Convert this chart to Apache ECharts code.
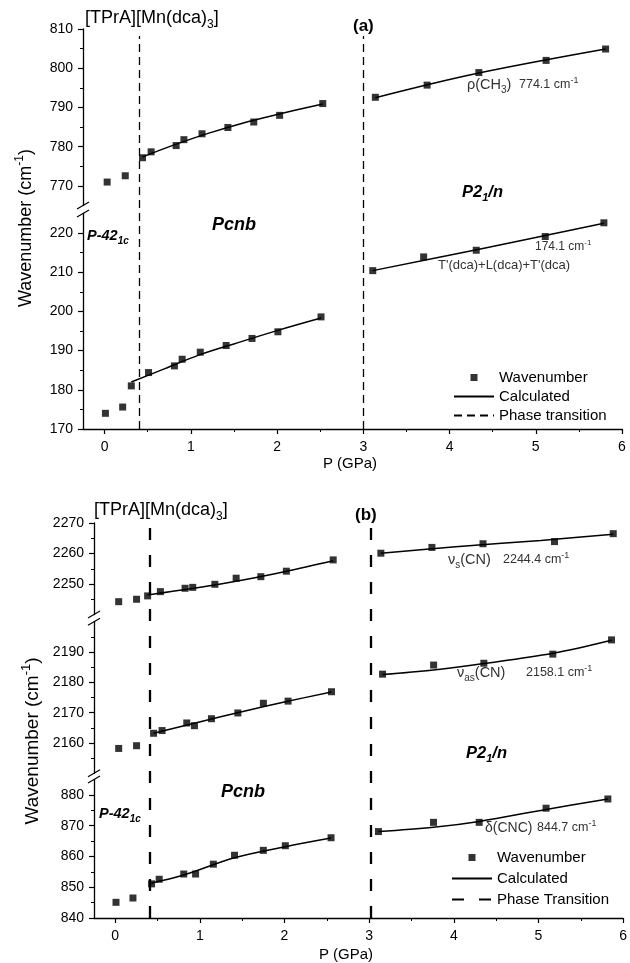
<!DOCTYPE html>
<html>
<head>
<meta charset="utf-8">
<script src="https://cdn.jsdelivr.net/npm/echarts@6/dist/echarts.min.js"></script>
<style>
  html, body { margin: 0; padding: 0; background: #fff; }
  #chart { width: 630px; height: 963px; }
</style>
</head>
<body>
<div id="chart"></div>
<script>
const FONT = "'Liberation Sans', Arial, sans-serif";

// ticks
const pMajor = [0, 1, 2, 3, 4, 5, 6];
const pMinor = [0.5, 1.5, 2.5, 3.5, 4.5, 5.5];
const rhoMajor = [770, 780, 790, 800, 810];
const rhoMinor = [775, 785, 795, 805];
const latMajor = [170, 180, 190, 200, 210, 220];
const latMinor = [175, 185, 195, 205, 215];
const nuSMajor = [2250, 2260, 2270];
const nuSMinor = [2245, 2255, 2265];
const nuAsMajor = [2160, 2170, 2180, 2190];
const nuAsMinor = [2155, 2165, 2175, 2185, 2195];
const deltaMajor = [840, 850, 860, 870, 880];
const deltaMinor = [845, 855, 865, 875];
const transitions = [0.4, 3.0];

// (a) rho(CH3)
const rhoP = [0.03, 0.24, 0.44, 0.54, 0.83, 0.92, 1.13, 1.43, 1.73, 2.03, 2.53];
const rhoW = [771.0, 772.6, 777.2, 778.7, 780.3, 781.8, 783.3, 784.9, 786.3, 788.0, 791.0];
const rhoP2 = [3.14, 3.74, 4.34, 5.12, 5.81];
const rhoW2 = [792.6, 795.7, 798.9, 802.0, 804.9];
const rhoCalcP = [0.44, 0.8, 1.2, 1.6, 2.0, 2.53];
const rhoCalc = [777.4, 780.4, 783.4, 786.0, 788.2, 790.9];
const rhoCalcP2 = [3.14, 4.3, 5.81];
const rhoCalc2 = [792.5, 798.6, 804.9];

// (a) T'(dca)+L(dca)+T'(dca)
const latP = [0.01, 0.21, 0.31, 0.51, 0.81, 0.90, 1.11, 1.41, 1.71, 2.01, 2.51];
const latW = [174.0, 175.6, 181.0, 184.4, 186.1, 187.8, 189.6, 191.3, 193.1, 194.8, 198.6];
const latP2 = [3.11, 3.70, 4.31, 5.11, 5.79];
const latW2 = [210.4, 213.9, 215.6, 219.1, 222.6];
const latCalcP = [0.31, 0.7, 1.1, 1.5, 2.0, 2.51];
const latCalc = [182.0, 185.4, 188.9, 191.7, 195.1, 198.3];
const latCalcP2 = [3.11, 4.4, 5.79];
const latCalc2 = [210.4, 216.1, 222.5];

// (b) nu_s(CN)
const nuSP = [0.04, 0.25, 0.38, 0.53, 0.82, 0.91, 1.17, 1.42, 1.71, 2.01, 2.56];
const nuSW = [2244.2, 2245.0, 2246.1, 2247.5, 2248.6, 2248.9, 2249.9, 2251.9, 2252.4, 2254.2, 2257.9];
const nuSP2 = [3.12, 3.72, 4.32, 5.16, 5.85];
const nuSW2 = [2260.1, 2262.0, 2263.2, 2263.9, 2266.5];
const nuSCalcP = [0.38, 1.0, 1.5, 2.0, 2.56];
const nuSCalc = [2246.4, 2248.9, 2251.3, 2254.1, 2257.6];
const nuSCalcP2 = [3.12, 4.0, 5.0, 5.85];
const nuSCalc2 = [2260.1, 2262.2, 2264.3, 2266.3];

// (b) nu_as(CN)
const nuAsP = [0.04, 0.25, 0.45, 0.55, 0.84, 0.93, 1.13, 1.44, 1.74, 2.03, 2.54];
const nuAsW = [2158.2, 2159.1, 2163.2, 2164.1, 2166.6, 2165.7, 2168.0, 2169.9, 2173.1, 2173.8, 2176.9];
const nuAsP2 = [3.14, 3.74, 4.33, 5.14, 5.83];
const nuAsW2 = [2182.7, 2185.7, 2186.3, 2189.3, 2194.0];
const nuAsCalcP = [0.45, 1.0, 1.5, 2.0, 2.54];
const nuAsCalc = [2163.2, 2167.0, 2170.4, 2173.6, 2176.8];
const nuAsCalcP2 = [3.14, 3.74, 4.33, 5.14, 5.83];
const nuAsCalc2 = [2182.6, 2184.1, 2186.2, 2189.6, 2193.9];

// (b) delta(CNC)
const deltaP = [0.01, 0.21, 0.43, 0.52, 0.81, 0.95, 1.16, 1.41, 1.75, 2.01, 2.55];
const deltaW = [845.1, 846.5, 851.1, 852.6, 854.3, 854.3, 857.5, 860.4, 862.0, 863.5, 866.1];
const deltaP2 = [3.11, 3.76, 4.30, 5.09, 5.82];
const deltaW2 = [868.1, 871.1, 871.1, 875.7, 878.7];
const deltaCalcP = [0.43, 0.81, 1.41, 2.01, 2.55];
const deltaCalc = [851.4, 854.0, 859.6, 863.2, 866.0];
const deltaCalcP2 = [3.11, 3.76, 4.30, 5.09, 5.82];
const deltaCalc2 = [868.1, 869.5, 871.4, 875.3, 878.7];

const zip = (ps, vs) => ps.map((p, i) => [p, vs[i]]);

// layout of the broken axes
const A = { left: 83, right: 8 };
const B = { left: 94, right: 4 };
const grid = [
  { left: A.left, right: A.right, top: 29, height: 176.6 },    // 0 (a) upper
  { left: A.left, right: A.right, top: 213.4, height: 215.6 }, // 1 (a) lower
  { left: A.left, right: A.right, top: 36, height: 393 },      // 2 (a) transitions
  { left: B.left, right: B.right, top: 523, height: 91.5 },    // 3 (b) upper
  { left: B.left, right: B.right, top: 621.7, height: 151.6 }, // 4 (b) middle
  { left: B.left, right: B.right, top: 779.6, height: 138.4 }, // 5 (b) lower
  { left: B.left, right: B.right, top: 520, height: 398 }      // 6 (b) transitions
];

const xAxis = [];
const yAxis = [];
const series = [];
const plain = (v) => String(v);

function addX(g, visible) {
  const base = { gridIndex: g, type: "value", min: -0.25, max: 6, position: "bottom", splitLine: { show: false } };
  if (!visible) {
    xAxis.push(Object.assign({ show: false }, base));
    return xAxis.length - 1;
  }
  xAxis.push(Object.assign({}, base, {
    axisLine: { show: true, onZero: false, lineStyle: { color: "#000", width: 1.3 } },
    axisTick: { show: true, length: 5, customValues: pMajor, lineStyle: { color: "#000", width: 1.2 } },
    axisLabel: { show: true, customValues: pMajor, formatter: plain, color: "#000", fontSize: 14, fontFamily: FONT, margin: 11 }
  }));
  xAxis.push(Object.assign({}, base, {
    axisLine: { show: false, onZero: false },
    axisTick: { show: true, length: 3, customValues: pMinor, lineStyle: { color: "#000", width: 1 } },
    axisLabel: { show: false }
  }));
  return xAxis.length - 2;
}

function addY(g, min, max, major, minor) {
  const base = { gridIndex: g, type: "value", min: min, max: max, position: "left", splitLine: { show: false } };
  if (!major) {
    yAxis.push(Object.assign({ show: false }, base));
    return yAxis.length - 1;
  }
  yAxis.push(Object.assign({}, base, {
    axisLine: { show: true, onZero: false, lineStyle: { color: "#000", width: 1.3 } },
    axisTick: { show: true, length: 5, customValues: major, lineStyle: { color: "#000", width: 1.2 } },
    axisLabel: { show: true, customValues: major, formatter: plain, color: "#000", fontSize: 14, fontFamily: FONT, margin: 10 }
  }));
  yAxis.push(Object.assign({}, base, {
    axisLine: { show: false, onZero: false },
    axisTick: { show: true, length: 3, customValues: minor, lineStyle: { color: "#000", width: 1 } },
    axisLabel: { show: false }
  }));
  return yAxis.length - 2;
}

function addPoints(xi, yi, ps, vs) {
  series.push({
    type: "scatter", name: "Wavenumber", xAxisIndex: xi, yAxisIndex: yi,
    symbol: "rect", symbolSize: 7, itemStyle: { color: "#000" }, z: 3,
    data: zip(ps, vs)
  });
}

// itemStyle is transparent so the legend shows only the line
function addCalc(xi, yi, ps, vs) {
  series.push({
    type: "line", name: "Calculated", xAxisIndex: xi, yAxisIndex: yi,
    symbol: "none", smooth: 0.35, itemStyle: { color: "rgba(0,0,0,0)" },
    lineStyle: { color: "#000", width: 1.5 },
    data: zip(ps, vs)
  });
}

function addTransitions(xi, yi, name, dash, width) {
  series.push({
    type: "line", name: name, xAxisIndex: xi, yAxisIndex: yi, data: [],
    symbol: "none", itemStyle: { color: "rgba(0,0,0,0)" },
    lineStyle: { color: "#000", width: width, type: dash },
    markLine: {
      silent: true, symbol: ["none", "none"], label: { show: false },
      lineStyle: { color: "#000", width: width, type: dash },
      data: transitions.map((t) => ({ xAxis: t }))
    }
  });
}

// panel (a)
let xi = addX(0, false), yi = addY(0, 765, 810, rhoMajor, rhoMinor);
addPoints(xi, yi, rhoP, rhoW); addPoints(xi, yi, rhoP2, rhoW2);
addCalc(xi, yi, rhoCalcP, rhoCalc); addCalc(xi, yi, rhoCalcP2, rhoCalc2);

xi = addX(1, true); yi = addY(1, 170, 225, latMajor, latMinor);
addPoints(xi, yi, latP, latW); addPoints(xi, yi, latP2, latW2);
addCalc(xi, yi, latCalcP, latCalc); addCalc(xi, yi, latCalcP2, latCalc2);

xi = addX(2, false); yi = addY(2, 0, 1);
addTransitions(xi, yi, "Phase transition", [8, 5], 1.3);

// panel (b)
xi = addX(3, false); yi = addY(3, 2240, 2270, nuSMajor, nuSMinor);
addPoints(xi, yi, nuSP, nuSW); addPoints(xi, yi, nuSP2, nuSW2);
addCalc(xi, yi, nuSCalcP, nuSCalc); addCalc(xi, yi, nuSCalcP2, nuSCalc2);

xi = addX(4, false); yi = addY(4, 2150, 2200, nuAsMajor, nuAsMinor);
addPoints(xi, yi, nuAsP, nuAsW); addPoints(xi, yi, nuAsP2, nuAsW2);
addCalc(xi, yi, nuAsCalcP, nuAsCalc); addCalc(xi, yi, nuAsCalcP2, nuAsCalc2);

xi = addX(5, true); yi = addY(5, 840, 885, deltaMajor, deltaMinor);
addPoints(xi, yi, deltaP, deltaW); addPoints(xi, yi, deltaP2, deltaW2);
addCalc(xi, yi, deltaCalcP, deltaCalc); addCalc(xi, yi, deltaCalcP2, deltaCalc2);

xi = addX(6, false); yi = addY(6, 0, 1);
addTransitions(xi, yi, "Phase Transition", [12, 15], 2.3);

// text
function rich(size, weight, fstyle, color) {
  const n = { fontSize: size, fontWeight: weight, fontStyle: fstyle, fontFamily: FONT, fill: color, lineHeight: Math.round(size * 1.4) };
  const small = Math.round(size * 0.68);
  return {
    n: n,
    s: Object.assign({}, n, { fontSize: small, lineHeight: Math.round(size * 0.8), verticalAlign: "bottom" }),
    u: Object.assign({}, n, { fontSize: small, lineHeight: Math.round(size * 0.8), verticalAlign: "top" })
  };
}

function text(x, y, str, size, o) {
  o = o || {};
  return {
    type: "text", x: x, y: y, silent: true, rotation: o.rotation || 0,
    style: {
      text: str, align: o.align || "left", verticalAlign: "middle",
      rich: rich(size, o.weight || "normal", o.fstyle || "normal", o.color || "#000")
    }
  };
}

const BI = { weight: "bold", fstyle: "italic" };
const GRAY = { color: "#333" };

function breakMarks(x, yTop, yBottom) {
  return [yTop, yBottom].map((y) => ({
    type: "line", silent: true,
    shape: { x1: x - 6, y1: y + 3.5, x2: x + 6, y2: y - 3.5 },
    style: { stroke: "#000", lineWidth: 1.2 }
  }));
}

const aUpperBottom = grid[0].top + grid[0].height;
const bUpperBottom = grid[3].top + grid[3].height;
const bMiddleBottom = grid[4].top + grid[4].height;

const graphics = [
  text(85, 18, "{n|[TPrA][Mn(dca)}{s|3}{n|]}", 18),
  text(353, 26, "{n|(a)}", 17, { weight: "bold" }),
  text(467, 85, "{n|ρ(CH}{s|3}{n|)}", 14.5, GRAY),
  text(519, 85, "{n|774.1 cm}{u|-1}", 12.5, GRAY),
  text(462, 192, "{n|P2}{s|1}{n|/n}", 16.5, BI),
  text(212, 225, "{n|Pcnb}", 18, BI),
  text(87, 236, "{n|P-42}{s|1c}", 14.5, BI),
  text(535, 247, "{n|174.1 cm}{u|-1}", 12, GRAY),
  text(438, 265, "{n|T'(dca)+L(dca)+T'(dca)}", 13, GRAY),
  text(26, 228, "{n|Wavenumber (cm}{u|-1}{n|)}", 18, { align: "center", rotation: Math.PI / 2 }),
  text(350, 464, "{n|P (GPa)}", 15, { align: "center" }),

  text(94, 510, "{n|[TPrA][Mn(dca)}{s|3}{n|]}", 18),
  text(355, 515, "{n|(b)}", 17, { weight: "bold" }),
  text(448, 560, "{n|ν}{s|s}{n|(CN)}", 14.5, GRAY),
  text(503, 560, "{n|2244.4 cm}{u|-1}", 12.5, GRAY),
  text(457, 673, "{n|ν}{s|as}{n|(CN)}", 14.5, GRAY),
  text(526, 673, "{n|2158.1 cm}{u|-1}", 12.5, GRAY),
  text(466, 753, "{n|P2}{s|1}{n|/n}", 16.5, BI),
  text(221, 792, "{n|Pcnb}", 18, BI),
  text(99, 814, "{n|P-42}{s|1c}", 14.5, BI),
  text(485, 828, "{n|δ(CNC)}", 14, GRAY),
  text(537, 828, "{n|844.7 cm}{u|-1}", 12.5, GRAY),
  text(33, 741, "{n|Wavenumber (cm}{u|-1}{n|)}", 19, { align: "center", rotation: Math.PI / 2 }),
  text(346, 955, "{n|P (GPa)}", 15, { align: "center" })
].concat(
  breakMarks(A.left, aUpperBottom, grid[1].top),
  breakMarks(B.left, bUpperBottom, grid[4].top),
  breakMarks(B.left, bMiddleBottom, grid[5].top)
);

const SQUARE = "path://M0,0H10V10H0Z";
const legendBase = {
  orient: "vertical", itemWidth: 40, itemHeight: 7, selectedMode: false,
  textStyle: { fontSize: 15, fontFamily: FONT, color: "#000" }
};

const chart = echarts.init(document.getElementById("chart"));
chart.setOption({
  animation: false,
  backgroundColor: "#fff",
  grid: grid,
  xAxis: xAxis,
  yAxis: yAxis,
  legend: [
    Object.assign({}, legendBase, { left: 448, top: 365, itemGap: 4,
      data: [{ name: "Wavenumber", icon: SQUARE, itemStyle: { color: "#000" } }, "Calculated", "Phase transition"] }),
    Object.assign({}, legendBase, { left: 446, top: 845, itemGap: 6,
      data: [{ name: "Wavenumber", icon: SQUARE, itemStyle: { color: "#000" } }, "Calculated", "Phase Transition"] })
  ],
  graphic: { elements: graphics },
  series: series
});
</script>
</body>
</html>
